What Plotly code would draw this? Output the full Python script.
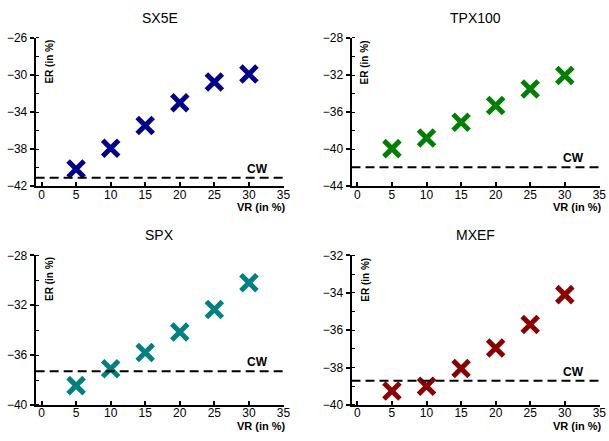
import plotly.graph_objects as go

# Volatility reduction targets (x) and resulting expected return per index (y)
vr = [5, 10, 15, 20, 25, 30]
names = ["SX5E", "TPX100", "SPX", "MXEF"]
sx5e = [-40.15, -37.9, -35.45, -33.0, -30.75, -29.9]
tpx100 = [-39.95, -38.8, -37.1, -35.3, -33.5, -32.05]
spx = [-38.45, -37.1, -35.8, -34.15, -32.35, -30.2]
mxef = [-39.25, -39.0, -38.05, -36.95, -35.7, -34.1]
# Constant-weight (CW) reference level per index
cw = [-41.1, -41.95, -37.3, -38.7]

series = [sx5e, tpx100, spx, mxef]
colors = ["#00008B", "#008000", "#008080", "#8B0000"]
y_ranges = [(-42, -26), (-44, -28), (-40, -28), (-40, -32)]
y_dticks = [4, 4, 4, 2]
x_ticks = [0, 5, 10, 15, 20, 25, 30, 35]

W, H = 609, 441
x_doms = [(36 / W, 287 / W), (355 / W, 606 / W)]
y_doms = [(1 - 185 / H, 1 - 32 / H), (1 - 411 / H, 1 - 256.5 / H)]

FONT = "Liberation Sans, Arial, Helvetica, sans-serif"

fig = go.Figure()
layout = {}
for i, name in enumerate(names):
    row, col = divmod(i, 2)
    k = "" if i == 0 else str(i + 1)
    xa, ya = "x" + k, "y" + k
    fig.add_trace(go.Scatter(
        x=vr, y=series[i], mode="markers", xaxis=xa, yaxis=ya,
        marker=dict(symbol="x-thin", size=16,
                    line=dict(width=5, color=colors[i]), color=colors[i]),
        showlegend=False, hoverinfo="x+y",
    ))
    layout["xaxis" + k] = dict(
        domain=x_doms[col], anchor=ya, range=[-0.85, 35.1],
        tickvals=x_ticks, ticks="inside", ticklen=4, tickwidth=1.5,
        tickcolor="black", ticklabelstandoff=-4,
        showline=True, linewidth=2, linecolor="black", mirror=False,
        showgrid=False, zeroline=False,
        tickfont=dict(family=FONT, size=12, color="black"),
    )
    lo, hi = y_ranges[i]
    layout["yaxis" + k] = dict(
        domain=y_doms[row], anchor=xa, range=[lo, hi],
        tick0=lo, dtick=y_dticks[i], ticks="outside", ticklen=4, tickwidth=1.5,
        tickcolor="black",
        minor=dict(dtick=y_dticks[i] / 2, ticks="inside", ticklen=3,
                   tickwidth=1, tickcolor="black"),
        showline=True, linewidth=2, linecolor="black",
        showgrid=False, zeroline=False,
        tickfont=dict(family=FONT, size=12, color="black"),
    )
    # CW level
    fig.add_shape(type="line", xref=xa + " domain", yref=ya,
                  x0=0, x1=1, y0=cw[i], y1=cw[i],
                  line=dict(color="black", width=2, dash="9px,5px"))
    fig.add_annotation(xref=xa, yref=ya, x=31.3, y=cw[i], text="<b>CW</b>",
                       showarrow=False, yanchor="bottom", yshift=0,
                       font=dict(family=FONT, size=12, color="black"))
    # Panel title
    fig.add_annotation(xref=xa + " domain", yref=ya + " domain", x=0.5, y=1,
                       text=name, showarrow=False, yanchor="middle", yshift=20,
                       font=dict(family=FONT, size=14, color="black"))
    # Axis labels
    fig.add_annotation(xref=xa + " domain", yref=ya + " domain", x=0.056, y=1,
                       text="<b>ER (in %)</b>", textangle=-90, showarrow=False,
                       xanchor="center", yanchor="top",
                       font=dict(family=FONT, size=10, color="black"))
    fig.add_annotation(xref=xa + " domain", yref=ya + " domain", x=1, y=0,
                       text="<b>VR (in %)</b>", showarrow=False,
                       xanchor="right", yanchor="middle", yshift=-21, xshift=4,
                       font=dict(family=FONT, size=11, color="black"))

fig.update_layout(
    width=W, height=H, margin=dict(l=0, r=0, t=0, b=0),
    paper_bgcolor="white", plot_bgcolor="white",
    **layout,
)
fig.write_html("out.html")
